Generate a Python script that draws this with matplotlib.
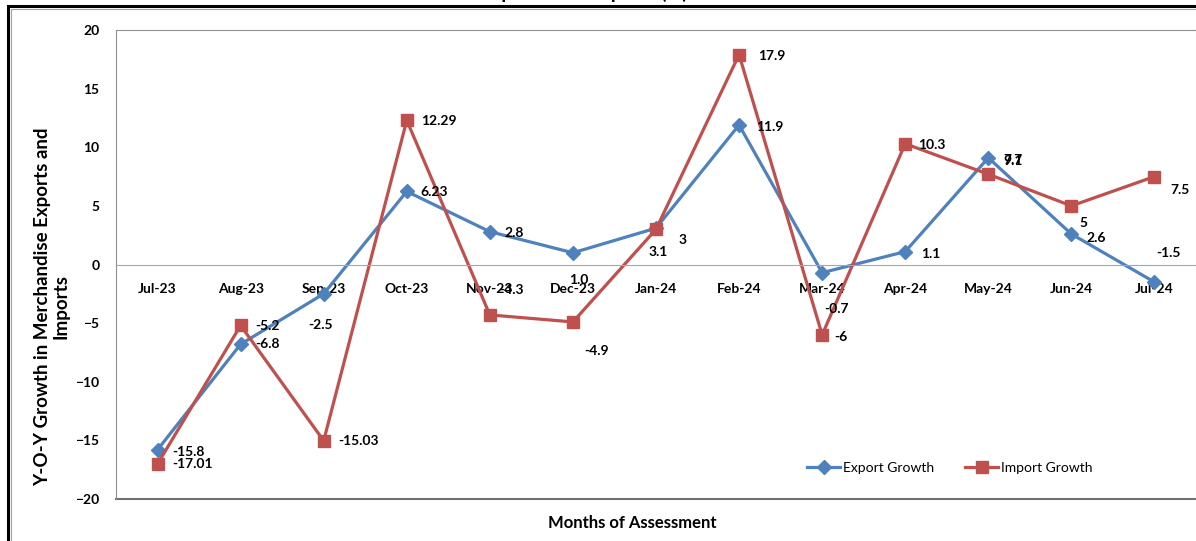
import matplotlib
matplotlib.use("Agg")
import matplotlib.pyplot as plt
from matplotlib.patches import Rectangle

plt.rcParams['font.family'] = ['Lato', 'DejaVu Sans']

## data
months = ['Jul-23', 'Aug-23', 'Sep-23', 'Oct-23', 'Nov-23', 'Dec-23', 'Jan-24',
          'Feb-24', 'Mar-24', 'Apr-24', 'May-24', 'Jun-24', 'Jul-24']
export_growth = [-15.8, -6.8, -2.5, 6.23, 2.8, 1.0, 3.1, 11.9, -0.7, 1.1, 9.1, 2.6, -1.5]
import_growth = [-17.01, -5.2, -15.03, 12.29, -4.3, -4.9, 3, 17.9, -6, 10.3, 7.7, 5, 7.5]
export_labels = ['-15.8', '-6.8', '-2.5', '6.23', '2.8', '1.0', '3.1', '11.9', '-0.7', '1.1', '9.1', '2.6', '-1.5']
import_labels = ['-17.01', '-5.2', '-15.03', '12.29', '-4.3', '-4.9', '3', '17.9', '-6', '10.3', '7.7', '5', '7.5']

# label offsets in pixels (left edge of text, vertical centre), as placed in the original
export_off = [(15, -2), (15, 0), (-15, -31), (14, -1), (15, -1), (-4, -27), (-7, -24),
              (17, -2), (2, -36), (16, -2), (15, -3), (15, -4), (2, 29)]
import_off = [(15, 0), (15, -1), (15, 0), (14, -1), (9, 25), (11, -29), (23, -11),
              (19, -1), (12, -2), (13, -1), (15, 14), (8, -17), (16, -13)]

blue = '#4F81BD'
red = '#C0504D'

W, H = 1196, 541
fig = plt.figure(figsize=(W / 100, H / 100), dpi=100)
ax = fig.add_axes([116 / W, 1 - 499 / H, (W - 116) / W, (499 - 30) / H])

x = list(range(len(months)))
ax.plot(x, export_growth, color=blue, lw=2.3, marker='D', ms=7.5, label='Export Growth')
ax.plot(x, import_growth, color=red, lw=2.3, marker='s', ms=9, label='Import Growth')

for i in x:
    ax.annotate(export_labels[i], (i, export_growth[i]), xytext=export_off[i],
                textcoords='offset pixels', ha='left', va='center',
                fontsize=10, fontweight='bold', color='black')
    ax.annotate(import_labels[i], (i, import_growth[i]), xytext=import_off[i],
                textcoords='offset pixels', ha='left', va='center',
                fontsize=10, fontweight='bold', color='black')

ax.set_xlim(-0.5, 12.5)
ax.set_ylim(-20, 20)
ax.set_yticks(range(-20, 21, 5))
ax.set_xticks(x)
ax.set_xticklabels(months)

# category axis crosses at zero, plot-area border kept at -20
ax.spines['bottom'].set_position(('data', 0))
ax.spines['bottom'].set_color('#a6a6a6')
ax.axhline(-20, color='#707070', lw=1.5, clip_on=False)
ax.spines['left'].set_color('#909090')
ax.spines['top'].set_color('#909090')
ax.spines['right'].set_color('#d0d0d0')
ax.tick_params(axis='x', length=0, pad=13, labelsize=10)
ax.tick_params(axis='y', length=0, pad=12, labelsize=10)
for t in ax.get_xticklabels() + ax.get_yticklabels():
    t.set_fontweight('bold')

ax.set_ylabel('Y-O-Y Growth in Merchandise Exports and\nImports', fontsize=13.5,
              fontweight='bold', linespacing=1.1)
ax.yaxis.set_label_coords(-0.043, 0.41)

fig.text(632 / W, 1 - 523 / H, 'Months of Assessment', ha='center', va='center',
         fontsize=12, fontweight='bold')

ax.legend(loc='center', bbox_to_anchor=(0.772, 0.066), ncol=2, frameon=False,
          fontsize=10, handlelength=2.4, handletextpad=0.2, columnspacing=2.2,
          markerscale=0.9)

# title sits above the visible area, only its descenders show
fig.text(688 / W, 1 + 1.5 / H, 'Growth in Merchandise Exports and Imports (%)',
         ha='right', va='baseline', fontsize=14, fontweight='bold')

# outer chart border
fig.patches.append(Rectangle((8, -20), 1400, H - 6 + 20, transform=None,
                             fill=False, edgecolor='black', lw=2.2))
fig.patches.append(Rectangle((11, -20), 1400, H - 9 + 20, transform=None,
                             fill=False, edgecolor='#a0a0a0', lw=0.8))

fig.savefig('out.png', dpi=100)
